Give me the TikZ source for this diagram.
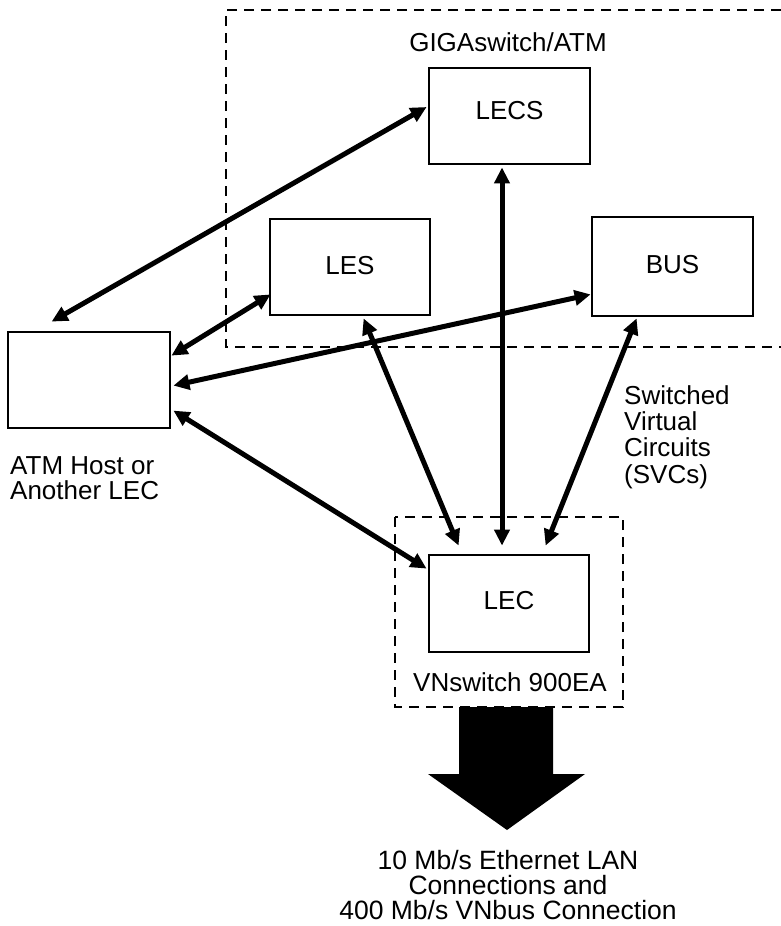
\documentclass[tikz,border=0pt]{standalone}
\usepackage{fontspec}
\setmainfont{Liberation Sans}
\usetikzlibrary{arrows.meta,calc}
\tikzset{
  boxnode/.style={draw, line width=2.8pt, minimum width=160pt, minimum height=96pt, inner sep=0pt, font=\fontsize{26}{26}\selectfont},
  dbl/.style={line width=5pt, {Triangle[length=16pt,width=15pt]}-{Triangle[length=16pt,width=15pt]}},
  dashline/.style={line width=2.5pt, dash pattern=on 10pt off 7pt},
  lbl/.style={inner sep=0pt, font=\fontsize{26}{26.3}\selectfont}
}
\begin{document}
\begin{tikzpicture}[x=1pt,y=-1pt]
\useasboundingbox (0,0) rectangle (781,926);
\fill[white] (0,0) rectangle (781,926);

% dashed GIGAswitch region (open to the right)
\draw[dashline] (781,10) -- (226,10) -- (226,347) -- (781,347);
% dashed VNswitch region
\draw[dashline] (395,517) rectangle (623,707);

\node[lbl] (giga) at (508,42) {GIGAswitch/ATM};

\node[boxnode, minimum width=161pt, text depth=12pt] (lecs) at (509.5,116) {LECS};
\node[boxnode, text depth=4pt] (les) at (350,267) {LES};
\node[boxnode, minimum width=161pt, minimum height=99pt, text depth=4pt] (bus) at (672.5,266.5) {BUS};
\node[boxnode, minimum width=162pt] (host) at (89,380) {};
\node[boxnode, minimum height=97pt, text depth=6pt] (lec) at (509,603.5) {LEC};

\node[lbl, align=left, anchor=west, font=\fontsize{26}{25}\selectfont] (hostlbl) at (10,478) {ATM Host or\\Another LEC};
\node[lbl, align=left, anchor=west] (svc) at (624,437) {Switched\\Virtual\\Circuits\\(SVCs)};
\node[lbl] (vns) at (510,682) {VNswitch 900EA};
\node[lbl, align=center, font=\fontsize{26.5}{24.8}\selectfont] (eth) at (508,885) {10 Mb/s Ethernet LAN\\Connections and\\400 Mb/s VNbus Connection};

% connectors
\draw[dbl] ($(lecs.west)+(-1,-9)$) -- ($(host.north west)+(45,-9)$);
\draw[dbl] ($(les.south west)+(2,-22)$) -- ($(host.north east)+(0,25)$);
\draw[dbl] ($(bus.south west)+(0,-23)$) -- ($(host.north east)+(2,55)$);
\draw[dbl] ($(host.north east)+(2,80)$) -- ($(lec.north west)+(-1,15)$);
\draw[dbl] ($(les.south west)+(95,2)$) -- ($(lec.north west)+(31,-8)$);
\draw[dbl] ($(lecs.south)+(-7.5,2)$) -- ($(lec.north)+(-7,-8)$);
\draw[dbl] ($(bus.south west)+(46,1)$) -- ($(lec.north west)+(118,-8)$);

% big down arrow
\fill[black] (459,707) -- (553,707) -- (553,774) -- (585,774) -- (507,830) -- (428,774) -- (459,774) -- cycle;
\end{tikzpicture}
\end{document}
